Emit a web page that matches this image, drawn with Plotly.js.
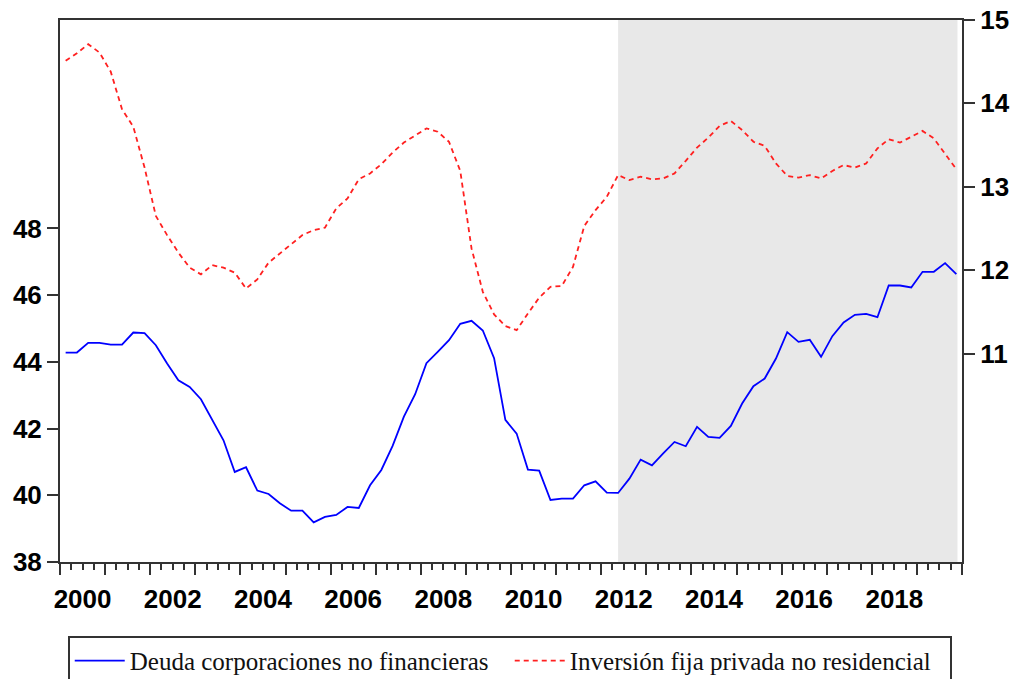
<!DOCTYPE html>
<html>
<head>
<meta charset="utf-8">
<script src="https://cdn.plot.ly/plotly-3.0.1.min.js"></script>
<style>
  html, body { margin: 0; padding: 0; background: #ffffff; }
  #chart { width: 1011px; height: 679px; }
</style>
</head>
<body>
<div id="chart"></div>
<script>
// Deuda vs inversión fija privada, trimestral 2000Q1 - 2019Q4

const startYear = 2000;

// eje izquierdo: deuda de corporaciones no financieras (% PIB)
const deuda = [
  44.28, 44.28, 44.57, 44.57, 44.52, 44.52, 44.88, 44.86,
  44.50, 43.95, 43.45, 43.25, 42.88, 42.28, 41.65, 40.70,
  40.84, 40.14, 40.04, 39.76, 39.54, 39.54, 39.19, 39.35,
  39.41, 39.65, 39.62, 40.30, 40.76, 41.48, 42.36, 43.03,
  43.96, 44.30, 44.65, 45.14, 45.23, 44.94, 44.11, 42.26,
  41.85, 40.77, 40.74, 39.86, 39.90, 39.90, 40.30, 40.42,
  40.08, 40.07, 40.50, 41.07, 40.90, 41.26, 41.60, 41.47,
  42.05, 41.75, 41.72, 42.08, 42.75, 43.27, 43.50, 44.10,
  44.89, 44.60, 44.66, 44.15, 44.77, 45.18, 45.41, 45.44,
  45.34, 46.29, 46.29, 46.23, 46.70, 46.70, 46.96, 46.63
];

// eje derecho: inversión fija privada no residencial (% PIB)
const inversion = [
  14.51, 14.60, 14.71, 14.61, 14.38, 13.93, 13.72, 13.23,
  12.65, 12.42, 12.21, 12.03, 11.95, 12.06, 12.03, 11.97,
  11.78, 11.89, 12.09, 12.20, 12.30, 12.42, 12.48, 12.51,
  12.74, 12.86, 13.09, 13.16, 13.27, 13.41, 13.53, 13.61,
  13.70, 13.66, 13.54, 13.19, 12.26, 11.74, 11.47, 11.33,
  11.28, 11.48, 11.67, 11.80, 11.81, 12.04, 12.53, 12.72,
  12.88, 13.14, 13.08, 13.12, 13.09, 13.10, 13.16, 13.31,
  13.47, 13.59, 13.73, 13.79, 13.68, 13.54, 13.49, 13.28,
  13.13, 13.11, 13.14, 13.10, 13.19, 13.26, 13.23, 13.28,
  13.46, 13.57, 13.53, 13.60, 13.67, 13.58, 13.40, 13.21
];

const yearTicks = [2000, 2001, 2002, 2003, 2004, 2005, 2006, 2007, 2008, 2009, 2010,
                   2011, 2012, 2013, 2014, 2015, 2016, 2017, 2018, 2019, 2020];
const labelYears = [2000, 2002, 2004, 2006, 2008, 2010, 2012, 2014, 2016, 2018];
const leftTicks = [38, 40, 42, 44, 46, 48];
const rightTicks = [11, 12, 13, 14, 15];

const shadeStart = 2012.375;   // 2012Q2
const shadeEnd = 2019.9;

const names = ["Deuda corporaciones no financieras", "Inversión fija privada no residencial"];

// cada trimestre se dibuja en el centro de su periodo
const t = deuda.map((_, i) => startYear + (i + 0.5) / 4);

const tickFont = { family: "Liberation Sans, Arial, sans-serif", size: 26, color: "#000", weight: "bold" };
const frame = "#333333";

const traces = [
  {
    x: t, y: deuda, name: names[0],
    type: "scatter", mode: "lines",
    line: { color: "#0000FF", width: 1.8 },
    xaxis: "x", yaxis: "y"
  },
  {
    x: t, y: inversion, name: names[1],
    type: "scatter", mode: "lines",
    line: { color: "#FF2020", width: 1.8, dash: "5px,4px" },
    xaxis: "x2", yaxis: "y2"
  }
];

const layout = {
  width: 1011,
  height: 679,
  margin: { l: 60, r: 49, t: 20, b: 117 },
  paper_bgcolor: "#ffffff",
  plot_bgcolor: "#ffffff",
  hovermode: false,
  showlegend: true,
  xaxis: {
    range: [2000, 2020],
    tickmode: "array",
    tickvals: yearTicks,
    showticklabels: false,
    ticks: "outside",
    ticklen: 11,
    tickwidth: 2,
    tickcolor: frame,
    minor: { dtick: 0.25, tick0: 2000, ticks: "outside", ticklen: 6, tickwidth: 2, tickcolor: frame },
    showline: true,
    linecolor: frame,
    linewidth: 2,
    mirror: true,
    showgrid: false,
    zeroline: false,
    fixedrange: true
  },
  xaxis2: {
    overlaying: "x",
    side: "bottom",
    anchor: "y",
    range: [2000, 2020],
    tickmode: "array",
    tickvals: labelYears.map(y => y + 0.5),
    ticktext: labelYears.map(String),
    ticks: "outside",
    ticklen: 11,
    tickcolor: "rgba(0,0,0,0)",
    tickfont: tickFont,
    ticklabelstandoff: 3,
    showline: false,
    showgrid: false,
    zeroline: false,
    fixedrange: true
  },
  yaxis: {
    range: [38, 54.25],
    tickmode: "array",
    tickvals: leftTicks,
    ticks: "outside",
    ticklen: 11,
    tickwidth: 2,
    tickcolor: frame,
    tickfont: tickFont,
    showline: true,
    linecolor: frame,
    linewidth: 2,
    showgrid: false,
    zeroline: false,
    fixedrange: true
  },
  yaxis2: {
    overlaying: "y",
    side: "right",
    anchor: "x",
    range: [8.5, 15],
    tickmode: "array",
    tickvals: rightTicks,
    ticks: "outside",
    ticklen: 11,
    tickwidth: 2,
    tickcolor: frame,
    tickfont: tickFont,
    showline: true,
    linecolor: frame,
    linewidth: 2,
    showgrid: false,
    zeroline: false,
    fixedrange: true
  },
  shapes: [
    {
      type: "rect", layer: "below",
      xref: "x", yref: "paper",
      x0: shadeStart, x1: shadeEnd, y0: 0, y1: 1,
      fillcolor: "#E8E8E8", line: { width: 0 }
    }
  ],
  legend: {
    orientation: "h",
    xref: "container", yref: "container",
    x: 0.067, xanchor: "left",
    y: 0.0635, yanchor: "top",
    bgcolor: "#ffffff",
    bordercolor: frame,
    borderwidth: 2,
    font: { family: "Liberation Serif, Times New Roman, serif", size: 25, color: "#111" },
    itemwidth: 50,
    entrywidth: 375,
    traceorder: "normal"
  }
};

Plotly.newPlot("chart", traces, layout, { displayModeBar: false, staticPlot: true });
</script>
</body>
</html>
